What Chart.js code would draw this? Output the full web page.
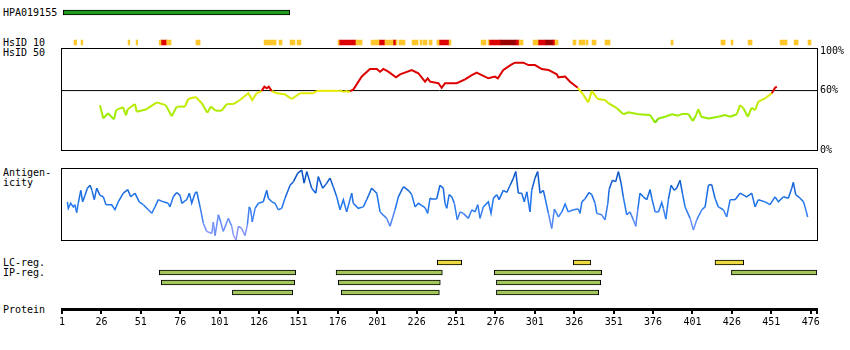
<!DOCTYPE html>
<html>
<head>
<meta charset="utf-8">
<title>HPA019155</title>
<script src="https://cdn.jsdelivr.net/npm/chart.js@4.4.1/dist/chart.umd.min.js"></script>
<style>
  html, body { margin: 0; padding: 0; background: #fff; }
  #view { position: relative; width: 850px; height: 350px; overflow: hidden;
          font: 10px/10px "DejaVu Sans Mono", monospace; color: #000; }
  #view canvas { position: absolute; left: 0; }
  .lbl { position: absolute; left: 3px; white-space: pre; }
</style>
</head>
<body>
<div id="view">
  <div class="lbl" style="top:8px">HPA019155</div>
  <div class="lbl" style="top:38px">HsID 10</div>
  <div class="lbl" style="top:48px">HsID 50</div>
  <div class="lbl" style="top:168px">Antigen-
icity</div>
  <div class="lbl" style="top:258px">LC-reg.</div>
  <div class="lbl" style="top:268px">IP-reg.</div>
  <div class="lbl" style="top:305px">Protein</div>

  <canvas id="epitope" width="850" height="11" style="top:7px"></canvas>
  <canvas id="hsid10" width="850" height="11" style="top:37px"></canvas>
  <canvas id="hsid50" width="850" height="122" style="top:38px"></canvas>
  <canvas id="antigen" width="850" height="76" style="top:166px"></canvas>
  <canvas id="regions" width="850" height="41" style="top:257px"></canvas>
  <canvas id="protein" width="850" height="39" style="top:300px"></canvas>
</div>
<script>
const PROTEIN_LENGTH = 480;
const proteinTicks = [1, 26, 51, 76, 101, 126, 151, 176, 201, 226, 251, 276, 301, 326, 351, 376, 401, 426, 451, 476];

const epitope = [1.8, 145.5];

// HsID 10 blocks, [start, end] in residues
const hsid10Low = [
  [8.6, 10.3], [13.1, 14.2], [42.9, 44.0], [48.0, 49.0], [62.7, 63.8], [67.4, 70.2],
  [86.0, 88.6], [129.2, 136.8], [138.7, 140.6], [145.7, 148.8], [150.1, 152.6],
  [176.1, 176.8], [187.5, 191.4], [197.1, 202.1], [205.9, 211.0], [212.9, 213.6],
  [214.8, 218.6], [223.1, 226.9], [228.2, 229.4], [230.1, 232.6], [233.9, 235.8],
  [238.9, 240.2], [246.6, 247.8], [266.9, 270.0], [271.3, 271.9], [291.0, 293.5],
  [299.9, 303.0], [313.8, 315.7], [325.2, 327.1], [329.0, 332.8], [333.5, 334.7],
  [337.3, 339.8], [345.5, 348.7], [387.4, 388.7], [419.1, 421.7], [425.5, 426.7],
  [436.3, 438.8], [456.6, 461.0], [465.5, 468.0], [474.3, 476.2],
];
const hsid10Mid = [
  [63.8, 67.4], [176.8, 187.5], [202.1, 205.9], [211.0, 212.9], [240.2, 246.6],
  [271.9, 278.9], [289.1, 291.0], [303.0, 307.5], [312.5, 313.8],
];
const hsid10High = [[278.9, 289.1], [307.5, 312.5]];

// HsID 50 identity profile (%)
const hsid50Residue = [
  25.1, 27.2, 30.2, 34.0, 35.3, 39.7, 41.6, 42.7, 47.3, 48.4, 54.7, 61.1, 66.8, 70.6, 73.8,
  79.0, 81.1, 85.8, 89.6, 93.2, 95.5, 98.5, 102.3, 105.5, 109.7, 113.9, 119.2, 121.7, 124.5,
  127.7, 129.4, 130.9, 132.2, 134.1, 137.2, 142.5, 146.7, 152.0, 160.5, 162.6, 176.3, 177.8,
  179.5, 181.6, 182.7, 183.7, 185.8, 191.2, 196.4, 200.7, 202.8, 204.9, 208.0, 212.9, 215.5,
  222.9, 227.1, 231.3, 233.0, 234.5, 239.8, 241.9, 244.0, 251.4, 256.7, 261.0, 264.1, 267.3,
  271.5, 275.7, 277.5, 281.0, 286.3, 288.4, 293.7, 296.9, 301.1, 305.4, 309.6, 314.9, 315.9,
  320.2, 323.3, 328.2, 331.8, 334.9, 337.1, 340.9, 345.5, 347.6, 353.0, 357.2, 360.3, 366.7,
  374.1, 377.3, 379.4, 383.7, 387.9, 392.1, 394.2, 398.4, 401.2, 403.1, 404.7, 406.5, 411.1,
  417.4, 421.7, 424.9, 429.1, 431.2, 433.3, 436.1, 438.6, 440.7, 442.8, 447.1, 451.3, 453.4,
  454.5,
];
const hsid50Value = [
  45.3, 31.9, 37.1, 30.9, 40.2, 43.3, 35.0, 41.2, 46.4, 38.7, 41.2, 48.1, 45.3, 34.0, 43.8,
  43.8, 51.5, 53.6, 47.4, 37.7, 43.8, 39.7, 39.7, 46.4, 46.4, 50.5, 57.3, 50.5, 57.3,
  59.7, 63.9, 62.3, 63.9, 59.5, 57.3, 56.2, 51.5, 57.3, 57.3, 59.7, 59.7, 60.0,
  58.7, 59.5, 58.7, 59.5, 61.0, 74.2, 81.8, 81.8, 79.1, 81.8, 79.1, 73.4, 76.4,
  80.8, 77.5, 69.0, 72.4, 69.0, 67.4, 62.8, 67.4, 67.4, 71.4, 75.7, 78.1, 75.7,
  72.4, 74.1, 72.4, 80.8, 86.5, 88.2, 88.2, 85.8, 85.8, 81.8, 80.8, 76.4, 73.4,
  74.1, 69.0, 62.8, 55.6, 48.1, 59.7, 51.5, 50.5, 47.4, 42.2, 36.1, 38.1, 36.1,
  35.3, 27.6, 31.9, 33.6, 36.1, 34.6, 36.4, 36.4, 29.3, 34.6, 41.2, 33.6, 31.9,
  33.6, 35.3, 33.6, 36.1, 45.3, 42.2, 33.6, 42.7, 40.2, 48.8, 52.2, 57.3, 62.8,
  63.9,
];
const identityTicks = [0, 60, 100];
const identityCutoff = 60;
const identityAxisMax = 103;

// antigenicity profile (relative score, 0-100)
const antigenResidue = [
  4.4, 5.0, 6.5, 8.2, 9.2, 10.3, 11.3, 12.9, 14.1, 15.6, 17.1, 18.8, 20.0, 21.5, 23.0, 25.1,
  27.2, 28.9, 32.5, 34.6, 36.7, 39.9, 42.7, 44.6, 47.3, 50.0, 52.6, 55.8, 57.9, 60.0, 62.1,
  65.3, 68.4, 69.5, 71.6, 73.8, 75.9, 77.0, 80.1, 81.8, 83.3, 85.4, 86.5, 88.6, 90.7, 92.8,
  96.0, 97.0, 98.1, 100.2, 101.7, 103.3, 106.5, 108.7, 109.7, 111.4, 112.9, 115.0, 117.1,
  118.6, 119.8, 120.7, 121.7, 123.5, 125.6, 128.7, 130.9, 131.9, 134.1, 136.1, 138.2, 140.4,
  142.5, 145.7, 147.8, 150.6, 153.1, 154.6, 156.3, 159.4, 162.0, 163.6, 166.4, 169.0, 171.0,
  173.1, 175.3, 177.4, 179.5, 181.6, 184.8, 185.8, 189.0, 192.2, 194.3, 197.5, 200.7, 202.8,
  207.0, 209.1, 212.3, 214.4, 217.6, 220.7, 222.9, 225.0, 227.1, 231.3, 233.0, 234.5, 235.6,
  238.7, 240.8, 242.9, 244.0, 245.1, 246.6, 248.3, 249.9, 251.8, 253.5, 255.6, 258.8, 261.0,
  263.0, 264.8, 266.2, 268.3, 271.5, 273.2, 274.7, 276.8, 278.3, 281.0, 283.2, 285.3, 287.4,
  288.9, 290.5, 292.7, 294.3, 295.9, 297.9, 299.0, 301.1, 302.8, 304.3, 306.4, 307.5, 309.6,
  311.7, 313.4, 315.9, 318.1, 320.2, 322.2, 325.4, 328.6, 329.7, 330.8, 332.8, 335.4, 337.1,
  339.2, 340.3, 343.4, 345.5, 347.3, 348.1, 350.2, 352.3, 354.0, 355.7, 357.1, 359.3, 361.4,
  363.5, 365.0, 366.3, 367.7, 369.8, 372.0, 374.1, 375.2, 377.3, 379.4, 381.5, 382.5, 384.1,
  385.7, 387.4, 389.5, 391.0, 393.1, 394.6, 396.3, 399.5, 401.6, 403.7, 406.9, 409.0, 411.1,
  413.2, 415.3, 417.4, 420.6, 422.7, 424.9, 428.0, 431.2, 435.4, 438.6, 440.7, 442.8, 447.1,
  450.2, 453.4, 455.5, 458.7, 461.8, 464.0, 465.0, 466.5, 469.3, 471.4, 472.4, 474.1,
];
const antigenValue = [
  53, 44, 51, 46, 49, 38, 51, 69, 53, 62, 72, 76, 69, 56, 72, 62,
  60, 49, 49, 42, 53, 65, 70, 60, 65, 53, 49, 42, 37, 46, 56,
  53, 51, 46, 60, 66, 62, 51, 56, 65, 51, 65, 67, 46, 23, 12,
  9, 25, 6, 35, 25, 12, 30, 19, 7, 0, 19, 16, 6,
  21, 46, 42, 25, 44, 51, 53, 69, 58, 53, 51, 42, 44,
  58, 76, 81, 93, 97, 79, 95, 72, 65, 88, 72, 79, 86,
  74, 60, 42, 56, 39, 65, 51, 44, 46, 56, 72, 65, 39,
  30, 19, 42, 60, 74, 69, 63, 46, 51, 45, 37, 58, 57,
  57, 76, 72, 51, 44, 63, 60, 51, 28, 39, 37, 30, 42,
  39, 49, 30, 46, 53, 37, 58, 63, 56, 69, 66, 76, 86,
  95, 65, 65, 53, 67, 39, 69, 86, 95, 65, 69, 58, 37,
  16, 43, 32, 39, 50, 39, 42, 43, 37, 53, 57, 66, 63,
  51, 37, 35, 28, 51, 70, 83, 81, 95, 79, 60, 35, 39,
  28, 19, 42, 65, 60, 56, 70, 58, 39, 39, 52, 44, 29,
  56, 76, 69, 72, 83, 65, 46, 30, 14, 28, 42, 46, 76,
  77, 58, 46, 42, 32, 56, 56, 65, 60, 65, 46, 56, 53,
  49, 60, 53, 60, 58, 72, 80, 63, 58, 53, 46, 32,
];

const lcRegions = [[239.1, 254.6], [325.4, 336.5], [415.3, 433.5]];
const ipRegionsA = [[62.7, 149.3], [174.9, 242.3], [275.3, 343.4], [425.7, 479.9]];
const ipRegionsB = [[64.0, 148.6], [176.3, 241.0], [276.6, 342.8]];
const ipRegionsC = [[109.1, 147.4], [178.2, 240.4], [276.6, 341.5]];

Chart.defaults.font.family = '"DejaVu Sans Mono", monospace';
Chart.defaults.font.size = 10;
Chart.defaults.color = "#000";

const common = {
  responsive: false,
  animation: false,
  events: [],
  plugins: { legend: { display: false }, tooltip: { enabled: false } },
};
const residueAxis = { type: "linear", min: 1, max: PROTEIN_LENGTH, display: false };
const rowPadding = { left: 62, right: 33, top: 0.5, bottom: 0.5 };

function hexToRgb(hex) {
  const n = parseInt(hex.slice(1), 16);
  return [(n >> 16) & 255, (n >> 8) & 255, n & 255];
}

function mix(a, b, t) {
  const ca = hexToRgb(a);
  const cb = hexToRgb(b);
  const k = Math.max(0, Math.min(1, t));
  const c = ca.map((v, i) => Math.round(v + (cb[i] - v) * k));
  return `rgb(${c[0]}, ${c[1]}, ${c[2]})`;
}

function identityColor(v) {
  if (v >= identityCutoff) return "#dd0000";
  const hue = 60 + (identityCutoff - v) * 0.8;
  const light = 46 - Math.max(0, 31 - v) * 3;
  return `hsl(${hue}, 100%, ${light}%)`;
}

function antigenColor(v) {
  if (v >= 50) return mix("#2277ee", "#0048b8", (v - 50) / 50);
  return mix("#a4a0ff", "#2277ee", v / 45);
}

function points(xs, ys) {
  return xs.map((x, i) => ({ x, y: ys[i] }));
}

function spans(list, row) {
  return list.map((r) => ({ x: r, y: row }));
}

// black outline round a plot panel
const panelFrame = {
  id: "panelFrame",
  afterDatasetsDraw(chart) {
    const { ctx, chartArea: a } = chart;
    ctx.save();
    ctx.strokeStyle = "#000";
    ctx.lineWidth = 1;
    ctx.strokeRect(a.left - 0.5, a.top + 0.5, a.right - a.left + 1, a.bottom - a.top);
    ctx.restore();
  },
};

function mountEpitope() {
  new Chart(document.getElementById("epitope"), {
    type: "bar",
    data: {
      labels: ["HPA019155"],
      datasets: [{
        data: [epitope],
        backgroundColor: "#1f9c1f",
        borderColor: "#000",
        borderWidth: 1,
        borderSkipped: false,
        barThickness: 5,
      }],
    },
    options: {
      ...common,
      indexAxis: "y",
      layout: { padding: rowPadding },
      scales: { x: residueAxis, y: { display: false } },
    },
  });
}

function mountHsid10() {
  const levels = [
    [hsid10Low, "#ffc629"],
    [hsid10Mid, "#dd0000"],
    [hsid10High, "#990000"],
  ];
  new Chart(document.getElementById("hsid10"), {
    type: "bar",
    data: {
      labels: ["HsID 10"],
      datasets: levels.map(([list, color]) => ({
        data: spans(list, "HsID 10"),
        backgroundColor: color,
        borderWidth: 0,
        grouped: false,
        barThickness: 5,
      })),
    },
    options: {
      ...common,
      indexAxis: "y",
      layout: { padding: rowPadding },
      scales: { x: residueAxis, y: { display: false } },
    },
  });
}

function mountHsid50() {
  new Chart(document.getElementById("hsid50"), {
    type: "line",
    data: {
      datasets: [
        {
          data: points(hsid50Residue, hsid50Value),
          borderWidth: 2,
          pointRadius: 0,
          segment: {
            borderColor: (c) => identityColor((c.p0.parsed.y + c.p1.parsed.y) / 2),
          },
          order: 1,
        },
        {
          data: [{ x: 1, y: identityCutoff }, { x: PROTEIN_LENGTH, y: identityCutoff }],
          borderColor: "#000",
          borderWidth: 1,
          pointRadius: 0,
          order: 2,
        },
      ],
    },
    options: {
      ...common,
      layout: { padding: { left: 62, right: 0, top: 10, bottom: 10 } },
      scales: {
        x: residueAxis,
        y: {
          position: "right",
          min: 0,
          max: identityAxisMax,
          afterBuildTicks: (s) => { s.ticks = identityTicks.map((value) => ({ value })); },
          afterFit: (s) => { s.width = 33; },
          grid: { display: false, drawTicks: false },
          border: { display: false },
          ticks: { padding: 3, callback: (v) => v + "%" },
        },
      },
    },
    plugins: [panelFrame],
  });
}

function mountAntigen() {
  new Chart(document.getElementById("antigen"), {
    type: "line",
    data: {
      datasets: [{
        data: points(antigenResidue, antigenValue),
        borderWidth: 1.5,
        pointRadius: 0,
        segment: {
          borderColor: (c) => antigenColor((c.p0.parsed.y + c.p1.parsed.y) / 2),
        },
      }],
    },
    options: {
      ...common,
      layout: { padding: { left: 62, right: 33, top: 2, bottom: 2 } },
      scales: { x: residueAxis, y: { display: false, min: 0, max: 100 } },
    },
    plugins: [panelFrame],
  });
}

function mountRegions() {
  const bar = { borderColor: "#000", borderWidth: 1, borderSkipped: false, grouped: false, barThickness: 5 };
  new Chart(document.getElementById("regions"), {
    type: "bar",
    data: {
      labels: ["LC", "IP1", "IP2", "IP3"],
      datasets: [
        { ...bar, data: spans(lcRegions, "LC"), backgroundColor: "#ecd93f" },
        {
          ...bar,
          data: [...spans(ipRegionsA, "IP1"), ...spans(ipRegionsB, "IP2"), ...spans(ipRegionsC, "IP3")],
          backgroundColor: "#a3c65c",
        },
      ],
    },
    options: {
      ...common,
      indexAxis: "y",
      layout: { padding: rowPadding },
      scales: { x: residueAxis, y: { display: false } },
    },
  });
}

function mountProteinAxis() {
  const axisTicks = [...proteinTicks, PROTEIN_LENGTH];
  new Chart(document.getElementById("protein"), {
    type: "line",
    data: { datasets: [{ data: [] }] },
    options: {
      ...common,
      layout: { padding: { left: 62, right: 33 } },
      scales: {
        x: {
          type: "linear",
          min: 1,
          max: PROTEIN_LENGTH,
          afterBuildTicks: (s) => { s.ticks = axisTicks.map((value) => ({ value })); },
          afterFit: (s) => { s.height = 30; },
          border: { display: true, color: "#000", width: 3 },
          grid: { drawOnChartArea: false, drawTicks: true, tickLength: 5, color: "#000", lineWidth: 2 },
          ticks: {
            autoSkip: false,
            maxRotation: 0,
            padding: 2,
            callback: (v) => (proteinTicks.includes(v) ? String(v) : ""),
          },
        },
        y: { display: false },
      },
    },
  });
}

mountEpitope();
mountHsid10();
mountHsid50();
mountAntigen();
mountRegions();
mountProteinAxis();
</script>
</body>
</html>
